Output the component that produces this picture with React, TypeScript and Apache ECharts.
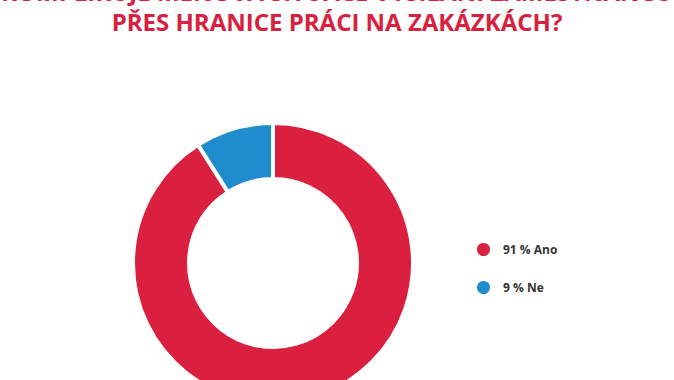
import React, { useEffect, useRef } from "react";
import * as echarts from "echarts";

const titleLines = [
  "KOMPLIKUJE MĚNOVÁ SITUACE VYSÍLÁNÍ ZAMĚSTNANCŮ",
  "PŘES HRANICE PRÁCI NA ZAKÁZKÁCH?",
];
const categories = ["Ano", "Ne"];
const values = [91, 9];
const colors = ["#DA1F3F", "#1E8CCD"];

export default function App() {
  const ref = useRef<HTMLDivElement>(null);
  useEffect(() => {
    const chart = echarts.init(ref.current!, null, { renderer: "svg" });
    const font = "'Open Sans', 'Noto Sans', sans-serif";
    const titleY = [-9, 21];
    chart.setOption({
      animation: false,
      backgroundColor: "#ffffff",
      graphic: titleLines.map((t, i) => ({
        type: "text",
        x: 337,
        y: titleY[i],
        style: {
          text: t,
          fill: "#D7213F",
          font: `bold 24px ${font}`,
          textAlign: "center",
          textVerticalAlign: "middle",
        },
      })),
      legend: {
        orient: "vertical",
        left: 470,
        top: 236,
        icon: "circle",
        itemWidth: 15,
        itemHeight: 15,
        itemGap: 21,
        data: categories,
        formatter: (name: string) => {
          const idx = categories.indexOf(name);
          return `${values[idx]} % ${name}`;
        },
        textStyle: {
          color: "#333333",
          fontSize: 12,
          fontWeight: "bold",
          fontFamily: font,
          padding: [0, 0, 0, 7],
        },
      },
      series: [
        {
          type: "pie",
          center: [273, 263],
          radius: [84, 140],
          startAngle: 90,
          clockwise: true,
          label: { show: false },
          labelLine: { show: false },
          emphasis: { disabled: true },
          itemStyle: { borderColor: "#ffffff", borderWidth: 4 },
          data: categories.map((c, i) => ({
            name: c,
            value: values[i],
            itemStyle: { color: colors[i] },
          })),
        },
      ],
    });
    return () => chart.dispose();
  }, []);
  return <div ref={ref} style={{ width: 674, height: 380, position: "absolute", left: 0, top: 0 }} />;
}
